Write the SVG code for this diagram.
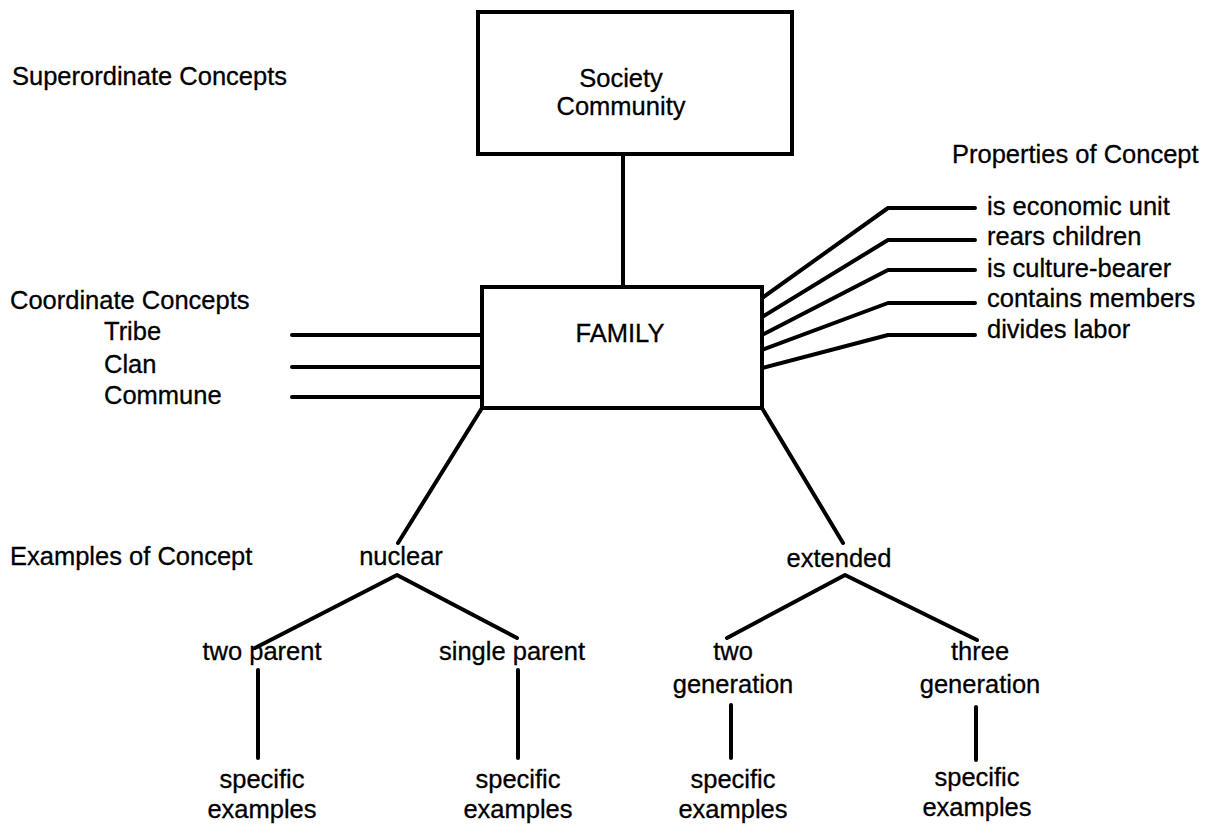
<svg xmlns="http://www.w3.org/2000/svg" width="1216" height="827" viewBox="0 0 1216 827">
  <style>
    text { font-family: "Liberation Sans", Arial, sans-serif; font-size: 25.5px; fill: #000; stroke: #000; stroke-width: 0.3; }
    .mid { text-anchor: middle; }
    .box { fill: #fff; stroke: #000; stroke-width: 4; }
    .ln { fill: none; stroke: #000; stroke-width: 4; stroke-linecap: round; stroke-linejoin: round; }
  </style>
  <rect width="1216" height="827" fill="#fff"/>

  <!-- connectors -->
  <g id="connectors" class="ln">
    <path d="M623 154 V287"/>
    <!-- coordinate concepts -->
    <path d="M292 335 H482"/>
    <path d="M292 367 H482"/>
    <path d="M292 397 H482"/>
    <!-- properties -->
    <path d="M762 298 L888 208 H975"/>
    <path d="M762 317 L888 240 H975"/>
    <path d="M762 335 L888 270 H975"/>
    <path d="M762 350 L888 303 H975"/>
    <path d="M762 368 L888 335 H975"/>
    <!-- examples -->
    <path d="M482 408 L398 543"/>
    <path d="M762 408 L843 543"/>
    <path d="M255 648 L397 575 L517 638"/>
    <path d="M727 638 L845 575 L977 640"/>
    <path d="M258 670 V758"/>
    <path d="M518 670 V758"/>
    <path d="M731 705 V758"/>
    <path d="M976 707 V760"/>
  </g>

  <!-- level labels -->
  <g id="level-labels">
    <text x="12" y="85">Superordinate Concepts</text>
    <text x="10" y="309">Coordinate Concepts</text>
    <text x="10" y="565">Examples of Concept</text>
  </g>

  <g id="superordinate">
    <rect class="box" x="478" y="12" width="314" height="142"/>
    <text class="mid" x="621" y="87">Society</text>
    <text class="mid" x="621" y="115">Community</text>
  </g>

  <g id="family">
    <rect class="box" x="482" y="287" width="280" height="121"/>
    <text class="mid" x="620" y="342">FAMILY</text>
  </g>

  <g id="coordinates">
    <text x="104" y="340">Tribe</text>
    <text x="104" y="373">Clan</text>
    <text x="104" y="404">Commune</text>
  </g>

  <g id="properties">
    <text x="952" y="163">Properties of Concept</text>
    <text x="987" y="215">is economic unit</text>
    <text x="987" y="245">rears children</text>
    <text x="987" y="277">is culture-bearer</text>
    <text x="987" y="307">contains members</text>
    <text x="987" y="338">divides labor</text>
  </g>

  <g id="nuclear">
    <text class="mid" x="401" y="565">nuclear</text>
  </g>
  <g id="extended">
    <text class="mid" x="839" y="567">extended</text>
  </g>
  <g id="two-parent">
    <text class="mid" x="262" y="660">two parent</text>
  </g>
  <g id="single-parent">
    <text class="mid" x="512" y="660">single parent</text>
  </g>
  <g id="two-generation">
    <text class="mid" x="733" y="660">two</text>
    <text class="mid" x="733" y="693">generation</text>
  </g>
  <g id="three-generation">
    <text class="mid" x="980" y="660">three</text>
    <text class="mid" x="980" y="693">generation</text>
  </g>
  <g id="examples-1">
    <text class="mid" x="262" y="788">specific</text>
    <text class="mid" x="262" y="818">examples</text>
  </g>
  <g id="examples-2">
    <text class="mid" x="518" y="788">specific</text>
    <text class="mid" x="518" y="818">examples</text>
  </g>
  <g id="examples-3">
    <text class="mid" x="733" y="788">specific</text>
    <text class="mid" x="733" y="818">examples</text>
  </g>
  <g id="examples-4">
    <text class="mid" x="977" y="786">specific</text>
    <text class="mid" x="977" y="816">examples</text>
  </g>
</svg>
